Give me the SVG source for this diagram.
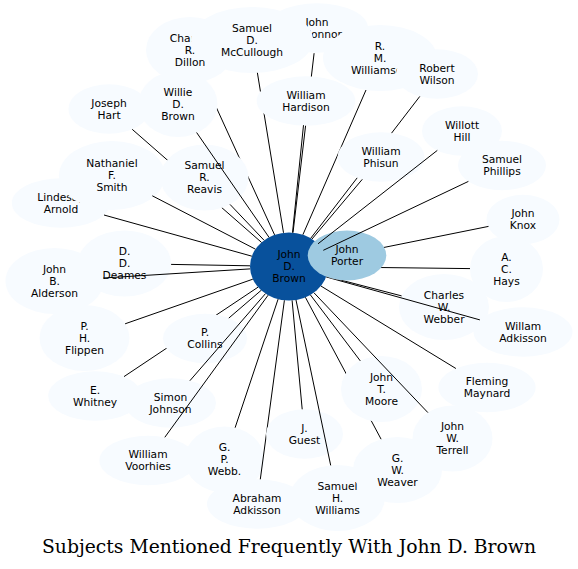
<svg xmlns="http://www.w3.org/2000/svg" xmlns:xlink="http://www.w3.org/1999/xlink" width="578" height="569" viewBox="0 0 578 569">
<style>
.nd{fill:#f7fbff}
.t{font-family:"DejaVu Sans","Liberation Sans",sans-serif;font-size:10.7px;text-anchor:middle;fill:#000}
.e path{stroke:#000;stroke-width:1;fill:none}
.title{font-family:"DejaVu Serif","Liberation Serif",serif;font-size:18px;text-anchor:middle;fill:#000}
</style>
<defs>
<ellipse id="s-reavis" cx="204.5" cy="177.5" rx="44" ry="33"/>
<ellipse id="s-willie" cx="178" cy="104" rx="39.5" ry="33"/>
<ellipse id="s-hardison" cx="306" cy="101" rx="49.3" ry="24.7"/>
<ellipse id="s-phisun" cx="381" cy="157" rx="43.5" ry="24.7"/>
<ellipse id="s-porter" cx="347" cy="255.5" rx="39.3" ry="25"/>
<ellipse id="s-moore" cx="381.5" cy="389" rx="40.5" ry="33"/>
<ellipse id="s-guest" cx="304.5" cy="434" rx="38.5" ry="24.7"/>
<ellipse id="s-collins" cx="205" cy="338.5" rx="42" ry="24.7"/>
<mask id="m-r" maskUnits="userSpaceOnUse" x="0" y="0" width="578" height="569"><rect width="578" height="569" fill="#fff"/><use href="#s-reavis" fill="#000"/></mask>
<mask id="m-rw" maskUnits="userSpaceOnUse" x="0" y="0" width="578" height="569"><rect width="578" height="569" fill="#fff"/><use href="#s-reavis" fill="#000"/><use href="#s-willie" fill="#000"/></mask>
<mask id="m-h" maskUnits="userSpaceOnUse" x="0" y="0" width="578" height="569"><rect width="578" height="569" fill="#fff"/><use href="#s-hardison" fill="#000"/></mask>
<mask id="m-ph" maskUnits="userSpaceOnUse" x="0" y="0" width="578" height="569"><rect width="578" height="569" fill="#fff"/><use href="#s-phisun" fill="#000"/></mask>
<mask id="m-po" maskUnits="userSpaceOnUse" x="0" y="0" width="578" height="569"><rect width="578" height="569" fill="#fff"/><use href="#s-porter" fill="#000"/></mask>
<mask id="m-mo" maskUnits="userSpaceOnUse" x="0" y="0" width="578" height="569"><rect width="578" height="569" fill="#fff"/><use href="#s-moore" fill="#000"/></mask>
<mask id="m-gu" maskUnits="userSpaceOnUse" x="0" y="0" width="578" height="569"><rect width="578" height="569" fill="#fff"/><use href="#s-guest" fill="#000"/></mask>
<mask id="m-co" maskUnits="userSpaceOnUse" x="0" y="0" width="578" height="569"><rect width="578" height="569" fill="#fff"/><use href="#s-collins" fill="#000"/></mask>
</defs>
<rect width="578" height="569" fill="#fff"/>

<g id="n-brown"><ellipse cx="289" cy="266.5" rx="39" ry="34" fill="#08519c"/><text class="t" x="289" y="258.3">John<tspan x="289" dy="12">D.</tspan><tspan x="289" dy="12">Brown</tspan></text></g>
<g id="n-porter"><use href="#s-porter" fill="#9ecae1"/><text class="t" x="347" y="253.3">John<tspan x="347" dy="12">Porter</tspan></text></g>
<g id="n-dillon" class="nd"><ellipse cx="190" cy="50" rx="44" ry="33"/><text class="t" x="190" y="41.8">Charles<tspan x="190" dy="12">R.</tspan><tspan x="190" dy="12">Dillon</tspan></text></g>
<g id="n-oconnor" class="nd"><ellipse cx="317" cy="28" rx="51" ry="24.7"/><text class="t" x="317" y="25.8">John<tspan x="317" dy="12">O'Connor</tspan></text></g>
<g id="n-mccullough" class="nd"><ellipse cx="252" cy="40" rx="61" ry="33"/><text class="t" x="252" y="31.8">Samuel<tspan x="252" dy="12">D.</tspan><tspan x="252" dy="12">McCullough</tspan></text></g>
<g id="n-williamson" class="nd"><ellipse cx="380" cy="58" rx="57" ry="33"/><text class="t" x="380" y="49.8">R.<tspan x="380" dy="12">M.</tspan><tspan x="380" dy="12">Williamson</tspan></text></g>
<g id="n-wilson" class="nd"><ellipse cx="437" cy="74" rx="41" ry="24.7"/><text class="t" x="437" y="71.8">Robert<tspan x="437" dy="12">Wilson</tspan></text></g>
<g id="n-hart" class="nd"><ellipse cx="109" cy="109" rx="40.6" ry="24.7"/><text class="t" x="109" y="106.8">Joseph<tspan x="109" dy="12">Hart</tspan></text></g>
<g id="n-willie" class="nd"><use href="#s-willie"/><text class="t" x="178" y="95.8">Willie<tspan x="178" dy="12">D.</tspan><tspan x="178" dy="12">Brown</tspan></text></g>
<g id="n-hardison" class="nd"><use href="#s-hardison"/><text class="t" x="306" y="98.8">William<tspan x="306" dy="12">Hardison</tspan></text></g>
<g id="n-lindesay" class="nd"><ellipse cx="61" cy="203" rx="49.2" ry="24.7"/><text class="t" x="61" y="200.8">Lindesay<tspan x="61" dy="12">Arnold</tspan></text></g>
<g id="n-smith" class="nd"><ellipse cx="112" cy="175.5" rx="53" ry="34.5"/><text class="t" x="112" y="166.8">Nathaniel<tspan x="112" dy="12">F.</tspan><tspan x="112" dy="12">Smith</tspan></text></g>
<g id="n-reavis" class="nd"><use href="#s-reavis"/><text class="t" x="204.5" y="169.3">Samuel<tspan x="204.5" dy="12">R.</tspan><tspan x="204.5" dy="12">Reavis</tspan></text></g>
<g id="n-phisun" class="nd"><use href="#s-phisun"/><text class="t" x="381" y="154.8">William<tspan x="381" dy="12">Phisun</tspan></text></g>
<g id="n-hill" class="nd"><ellipse cx="462" cy="131" rx="40" ry="24.7"/><text class="t" x="462" y="128.8">Willott<tspan x="462" dy="12">Hill</tspan></text></g>
<g id="n-phillips" class="nd"><ellipse cx="502" cy="165.5" rx="44" ry="24.7"/><text class="t" x="502" y="163.3">Samuel<tspan x="502" dy="12">Phillips</tspan></text></g>
<g id="n-knox" class="nd"><ellipse cx="523" cy="219.5" rx="36.5" ry="24.7"/><text class="t" x="523" y="217.3">John<tspan x="523" dy="12">Knox</tspan></text></g>
<g id="n-hays" class="nd"><ellipse cx="506.5" cy="269" rx="36.5" ry="33"/><text class="t" x="506.5" y="260.8">A.<tspan x="506.5" dy="12">C.</tspan><tspan x="506.5" dy="12">Hays</tspan></text></g>
<g id="n-webber" class="nd"><ellipse cx="444" cy="307" rx="45" ry="33"/><text class="t" x="444" y="298.8">Charles<tspan x="444" dy="12">W.</tspan><tspan x="444" dy="12">Webber</tspan></text></g>
<g id="n-wadkisson" class="nd"><ellipse cx="523" cy="332" rx="49.5" ry="24.7"/><text class="t" x="523" y="329.8">Willam<tspan x="523" dy="12">Adkisson</tspan></text></g>
<g id="n-maynard" class="nd"><ellipse cx="487" cy="387.5" rx="48.6" ry="24.7"/><text class="t" x="487" y="385.3">Fleming<tspan x="487" dy="12">Maynard</tspan></text></g>
<g id="n-moore" class="nd"><use href="#s-moore"/><text class="t" x="381.5" y="380.8">John<tspan x="381.5" dy="12">T.</tspan><tspan x="381.5" dy="12">Moore</tspan></text></g>
<g id="n-terrell" class="nd"><ellipse cx="452.5" cy="438.5" rx="40" ry="33"/><text class="t" x="452.5" y="430.3">John<tspan x="452.5" dy="12">W.</tspan><tspan x="452.5" dy="12">Terrell</tspan></text></g>
<g id="n-shwilliams" class="nd"><ellipse cx="337.5" cy="498" rx="47.4" ry="33"/><text class="t" x="337.5" y="489.8">Samuel<tspan x="337.5" dy="12">H.</tspan><tspan x="337.5" dy="12">Williams</tspan></text></g>
<g id="n-weaver" class="nd"><ellipse cx="397.5" cy="470" rx="44.6" ry="33"/><text class="t" x="397.5" y="461.8">G.<tspan x="397.5" dy="12">W.</tspan><tspan x="397.5" dy="12">Weaver</tspan></text></g>
<g id="n-guest" class="nd"><use href="#s-guest"/><text class="t" x="304.5" y="431.8">J.<tspan x="304.5" dy="12">Guest</tspan></text></g>
<g id="n-aadkisson" class="nd"><ellipse cx="257" cy="504" rx="50" ry="24.7"/><text class="t" x="257" y="501.8">Abraham<tspan x="257" dy="12">Adkisson</tspan></text></g>
<g id="n-webb" class="nd"><ellipse cx="224.5" cy="459.5" rx="39.7" ry="33"/><text class="t" x="224.5" y="451.3">G.<tspan x="224.5" dy="12">P.</tspan><tspan x="224.5" dy="12">Webb.</tspan></text></g>
<g id="n-voorhies" class="nd"><ellipse cx="148" cy="460.5" rx="48.6" ry="24.7"/><text class="t" x="148" y="458.3">William<tspan x="148" dy="12">Voorhies</tspan></text></g>
<g id="n-sjohnson" class="nd"><ellipse cx="170.5" cy="403" rx="45.5" ry="24.7"/><text class="t" x="170.5" y="400.8">Simon<tspan x="170.5" dy="12">Johnson</tspan></text></g>
<g id="n-whitney" class="nd"><ellipse cx="95" cy="396" rx="46.8" ry="24.7"/><text class="t" x="95" y="393.8">E.<tspan x="95" dy="12">Whitney</tspan></text></g>
<g id="n-flippen" class="nd"><ellipse cx="84.5" cy="338" rx="45" ry="33"/><text class="t" x="84.5" y="329.8">P.<tspan x="84.5" dy="12">H.</tspan><tspan x="84.5" dy="12">Flippen</tspan></text></g>
<g id="n-collins" class="nd"><use href="#s-collins"/><text class="t" x="205" y="336.3">P.<tspan x="205" dy="12">Collins</tspan></text></g>
<g id="n-alderson" class="nd"><ellipse cx="54.5" cy="281" rx="49" ry="33"/><text class="t" x="54.5" y="272.8">John<tspan x="54.5" dy="12">B.</tspan><tspan x="54.5" dy="12">Alderson</tspan></text></g>
<g id="n-deames" class="nd"><ellipse cx="124.5" cy="263.5" rx="46.6" ry="33"/><text class="t" x="124.5" y="255.3">D.<tspan x="124.5" dy="12">D.</tspan><tspan x="124.5" dy="12">Deames</tspan></text></g>

<g id="connectors" class="e">
<path mask="url(#m-rw)" d="M274.6,234.9 L204.3,81.2"/>
<g mask="url(#m-h)"><path d="M283.5,232.8 L257.4,72.8"/><path d="M293,232.7 L314.1,53.2"/></g>
<g mask="url(#m-ph)"><path d="M302.9,234.7 L366,90"/><path d="M310.7,238.3 L419.8,96.4"/></g>
<path d="M269,237.3 L196.6,132.5"/>
<path mask="url(#m-r)" d="M261.5,242.4 L132.2,129.3"/>
<path d="M292.5,232.6 L303.5,125.2"/>
<path d="M264.1,240.3 L230,204.4"/>
<path d="M255.5,249.2 L152.3,195.8"/>
<path d="M251.9,256.2 L104,215"/>
<path d="M312,239 L362.3,179.3"/>
<path d="M318,243.8 L437.3,150.4"/>
<path d="M323.3,250.3 L468.4,181.4"/>
<g mask="url(#m-po)"><path d="M327,258.9 L488.5,226.4"/><path d="M328,266.9 L470,268.6"/><path d="M326.4,276.3 L401.6,295.9"/><path d="M326.1,276.9 L479.9,319.9"/></g>
<path d="M320.9,286 L455.9,368.5"/>
<path d="M313.9,292.7 L427.9,412.6"/>
<path d="M310.4,294.9 L360.3,360.9"/>
<path mask="url(#m-mo)" d="M305.4,297.3 L381.1,439.2"/>
<path d="M292.1,300.4 L302.2,409.3"/>
<path d="M296,300 L330.7,465.4"/>
<path mask="url(#m-gu)" d="M284.4,300.3 L260.3,479.3"/>
<path d="M278.1,299.1 L235.1,427.7"/>
<path d="M268.1,295.2 L164.8,437.3"/>
<path d="M265.5,293.6 L189.9,380.7"/>
<path mask="url(#m-co)" d="M258,287.2 L124,376.6"/>
<path d="M252.8,279.2 L125.1,323.8"/>
<path d="M261.2,290.3 L228.8,318.1"/>
<path d="M250.1,268.9 L103.3,278"/>
<path d="M250,265.8 L171.1,264.4"/>
</g>

<text class="title" x="289" y="553" textLength="494" lengthAdjust="spacingAndGlyphs">Subjects Mentioned Frequently With John D. Brown</text>
</svg>
